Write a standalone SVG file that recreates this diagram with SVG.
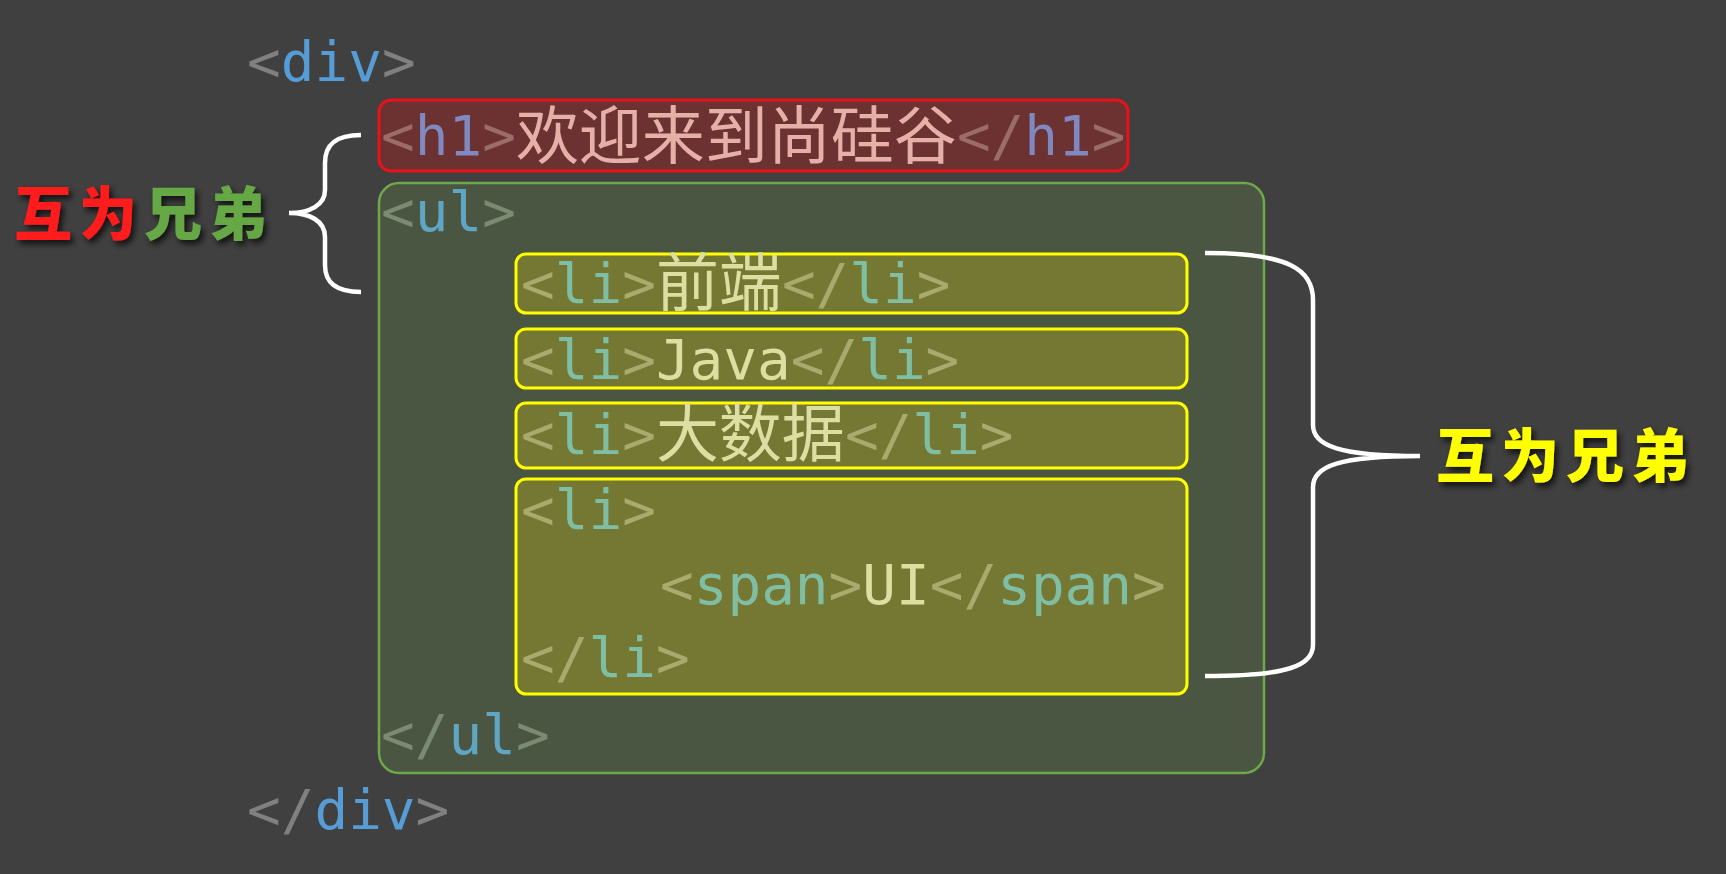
<svg xmlns="http://www.w3.org/2000/svg" width="1726" height="874" viewBox="0 0 1726 874">
<defs>
<style>
.code{font-family:"DejaVu Sans Mono","Liberation Mono",monospace;font-size:56px}
.cjk{font-family:"Noto Sans CJK SC","Noto Sans CJK JP",sans-serif;font-size:63px}
.lbl{font-family:"Noto Sans CJK SC","Noto Sans CJK JP",sans-serif;font-size:58px;font-weight:900;letter-spacing:7px}
.brace{fill:none;stroke:#ffffff;stroke-width:4.5;stroke-linecap:butt}
.li-box{fill:#747833;stroke:#ffff00;stroke-width:3}
.b0{fill:#808080}.t0{fill:#569cd6}
.b1{fill:#9c6c68}.t1{fill:#8088c0}.x1{fill:#e4b0a8}
.b2{fill:#7b8a72}.t2{fill:#5ea6c4}
.b3{fill:#a9aa6e}.t3{fill:#80bea4}.x3{fill:#dcdea2}
</style>
<filter id="sh" x="-10%" y="-20%" width="130%" height="150%">
<feDropShadow dx="3" dy="4" stdDeviation="3" flood-color="#000000" flood-opacity="0.75"/>
</filter>
</defs>
<rect x="0" y="0" width="1726" height="874" fill="#404040"/>

<g id="div-open"><text class="code" x="247" y="81"><tspan class="b0">&lt;</tspan><tspan class="t0">div</tspan><tspan class="b0">&gt;</tspan></text></g>

<g id="h1">
<rect x="379" y="100" width="749" height="71" rx="12" fill="#6c3232" stroke="#e8121a" stroke-width="3"/>
<text class="code" x="381" y="155"><tspan class="b1">&lt;</tspan><tspan class="t1">h1</tspan><tspan class="b1">&gt;</tspan><tspan class="cjk x1" dy="3">欢迎来到尚硅谷</tspan><tspan class="b1" dy="-3">&lt;/</tspan><tspan class="t1">h1</tspan><tspan class="b1">&gt;</tspan></text>
</g>

<g id="ul">
<rect x="379" y="183" width="885" height="590" rx="20" fill="#4a5641" stroke="#6ea84a" stroke-width="2.5"/>
<text class="code" x="381" y="231"><tspan class="b2">&lt;</tspan><tspan class="t2">ul</tspan><tspan class="b2">&gt;</tspan></text>
<text class="code" x="381" y="754"><tspan class="b2">&lt;/</tspan><tspan class="t2">ul</tspan><tspan class="b2">&gt;</tspan></text>
</g>

<g id="li1">
<rect class="li-box" x="516" y="254" width="671" height="59" rx="10"/>
<text class="code" x="521" y="303"><tspan class="b3">&lt;</tspan><tspan class="t3">li</tspan><tspan class="b3">&gt;</tspan><tspan class="cjk x3" dy="2">前端</tspan><tspan class="b3" dy="-2">&lt;/</tspan><tspan class="t3">li</tspan><tspan class="b3">&gt;</tspan></text>
</g>

<g id="li2">
<rect class="li-box" x="516" y="329" width="671" height="59" rx="10"/>
<text class="code" x="521" y="379"><tspan class="b3">&lt;</tspan><tspan class="t3">li</tspan><tspan class="b3">&gt;</tspan><tspan class="x3">Java</tspan><tspan class="b3">&lt;/</tspan><tspan class="t3">li</tspan><tspan class="b3">&gt;</tspan></text>
</g>

<g id="li3">
<rect class="li-box" x="516" y="403" width="671" height="65" rx="10"/>
<text class="code" x="521" y="454"><tspan class="b3">&lt;</tspan><tspan class="t3">li</tspan><tspan class="b3">&gt;</tspan><tspan class="cjk x3" dy="2">大数据</tspan><tspan class="b3" dy="-2">&lt;/</tspan><tspan class="t3">li</tspan><tspan class="b3">&gt;</tspan></text>
</g>

<g id="li4">
<rect class="li-box" x="516" y="479" width="671" height="215" rx="10"/>
<text class="code" x="521" y="529"><tspan class="b3">&lt;</tspan><tspan class="t3">li</tspan><tspan class="b3">&gt;</tspan></text>
<text class="code" x="660" y="604"><tspan class="b3">&lt;</tspan><tspan class="t3">span</tspan><tspan class="b3">&gt;</tspan><tspan class="x3">UI</tspan><tspan class="b3">&lt;/</tspan><tspan class="t3">span</tspan><tspan class="b3">&gt;</tspan></text>
<text class="code" x="521" y="677"><tspan class="b3">&lt;/</tspan><tspan class="t3">li</tspan><tspan class="b3">&gt;</tspan></text>
</g>

<g id="div-close"><text class="code" x="247" y="829"><tspan class="b0">&lt;/</tspan><tspan class="t0">div</tspan><tspan class="b0">&gt;</tspan></text></g>

<g id="connectors">
<path class="brace" d="M361,135 C335,135 325,145 325,163 L325,190 C325,205 310,213 289,213 C310,213 325,221 325,237 L325,265 C325,282 335,292 361,292"/>
<path class="brace" d="M1205,253 C1290,253 1313,270 1313,300 L1313,425 C1313,446 1340,456 1420,456 C1340,456 1313,466 1313,487 L1313,645 C1313,665 1290,676 1205,676"/>
</g>

<g id="label-left" filter="url(#sh)"><text class="lbl" x="14" y="235"><tspan fill="#ff1a1a">互为</tspan><tspan fill="#66a844">兄弟</tspan></text></g>
<g id="label-right" filter="url(#sh)"><text class="lbl" x="1436" y="477" fill="#ffff00">互为兄弟</text></g>
</svg>
